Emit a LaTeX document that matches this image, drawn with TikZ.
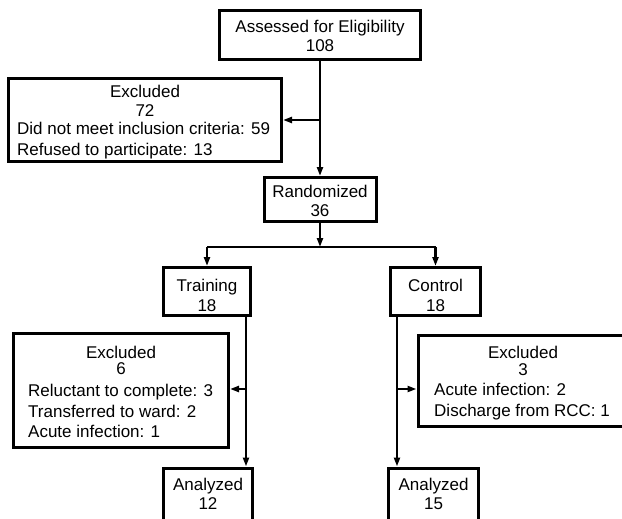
\documentclass[tikz,border=0pt]{standalone}
\usepackage{fontspec}
\setmainfont{Liberation Sans}
\usetikzlibrary{arrows.meta}
\begin{document}
\begin{tikzpicture}[x=1pt,y=-1pt,
  box/.style={draw, line width=3pt, inner sep=0pt},
  txt/.style={inner sep=0pt, font=\fontsize{17}{20}\selectfont},
  wire/.style={line width=2.2pt},
  conn/.style={line width=2.2pt, -{Triangle[length=9pt,width=6pt]}}]
\fill[white] (0,0) rectangle (622,519);
\useasboundingbox (0,0) rectangle (622,519);
\clip (0,0) rectangle (622,519);

% boxes
\node[box, minimum width=201pt, minimum height=49pt] (assess) at (320,35) {};
\node[box, minimum width=273pt, minimum height=83pt] (excl1) at (145,120) {};
\node[box, minimum width=112pt, minimum height=44pt] (rand) at (320,199.5) {};
\node[box, minimum width=87pt, minimum height=48pt] (train) at (207,291.5) {};
\node[box, minimum width=90pt, minimum height=48pt] (ctrl) at (435.5,291.5) {};
\node[box, minimum width=215pt, minimum height=114pt] (exclL) at (121,390.5) {};
\node[box, minimum width=222pt, minimum height=91pt] (exclR) at (529,381) {};
\node[box, minimum width=89pt, minimum height=58pt] (anaL) at (208,497) {};
\node[box, minimum width=90pt, minimum height=58pt] (anaR) at (433.5,497) {};

% texts
\node[txt, anchor=base] (t1) at (320,33) {Assessed for Eligibility};
\node[txt, anchor=base] (t2) at (320,52) {108};
\node[txt, anchor=base] (t3) at (145,98) {Excluded};
\node[txt, anchor=base] (t4) at (145,117) {72};
\node[txt, anchor=base west] (t5) at (17,135) {Did not meet inclusion criteria: 59};
\node[txt, anchor=base west] (t6) at (17,155) {Refused to participate: 13};
\node[txt, anchor=base] (t7) at (320,197) {Randomized};
\node[txt, anchor=base] (t8) at (320,216) {36};
\node[txt, anchor=base] (t9) at (207,291) {Training};
\node[txt, anchor=base] (t10) at (207,311) {18};
\node[txt, anchor=base] (t11) at (435.5,291) {Control};
\node[txt, anchor=base] (t12) at (435.5,311) {18};
\node[txt, anchor=base] (t13) at (121,358) {Excluded};
\node[txt, anchor=base] (t14) at (121,374) {6};
\node[txt, anchor=base west] (t15) at (28,396) {Reluctant to complete: 3};
\node[txt, anchor=base west] (t16) at (28,417) {Transferred to ward: 2};
\node[txt, anchor=base west] (t17) at (28,437) {Acute infection: 1};
\node[txt, anchor=base] (t18) at (523,358) {Excluded};
\node[txt, anchor=base] (t19) at (523,375) {3};
\node[txt, anchor=base west] (t20) at (434,395) {Acute infection: 2};
\node[txt, anchor=base west] (t21) at (434,416) {Discharge from RCC: 1};
\node[txt, anchor=base] (t22) at (208,490) {Analyzed};
\node[txt, anchor=base] (t23) at (208,509) {12};
\node[txt, anchor=base] (t24) at (433.5,490) {Analyzed};
\node[txt, anchor=base] (t25) at (433.5,509) {15};

% connectors
\coordinate (j1) at (320,120);
\coordinate (j2) at (320,247);
\coordinate (jL) at (207,247);
\coordinate (jR) at (435.5,247);
\coordinate (a1) at (246,317);
\coordinate (a2) at (246,389);
\coordinate (b1) at (397,317);
\coordinate (b2) at (397,389);

\draw[conn] (assess.south) -- (rand.north);
\draw[conn] (j1) -- (excl1.east);
\draw[conn] (rand.south) -- (j2);
\draw[wire] (jL) -- (jR);
\draw[conn] (jL) -- (train.north);
\draw[conn] (jR) -- (ctrl.north);
\draw[conn] (a1) -- (anaL.north -| a1);
\draw[conn] (a2) -- (exclL.east |- a2);
\draw[conn] (b1) -- (anaR.north -| b1);
\draw[conn] (b2) -- (exclR.west |- b2);
\end{tikzpicture}
\end{document}
